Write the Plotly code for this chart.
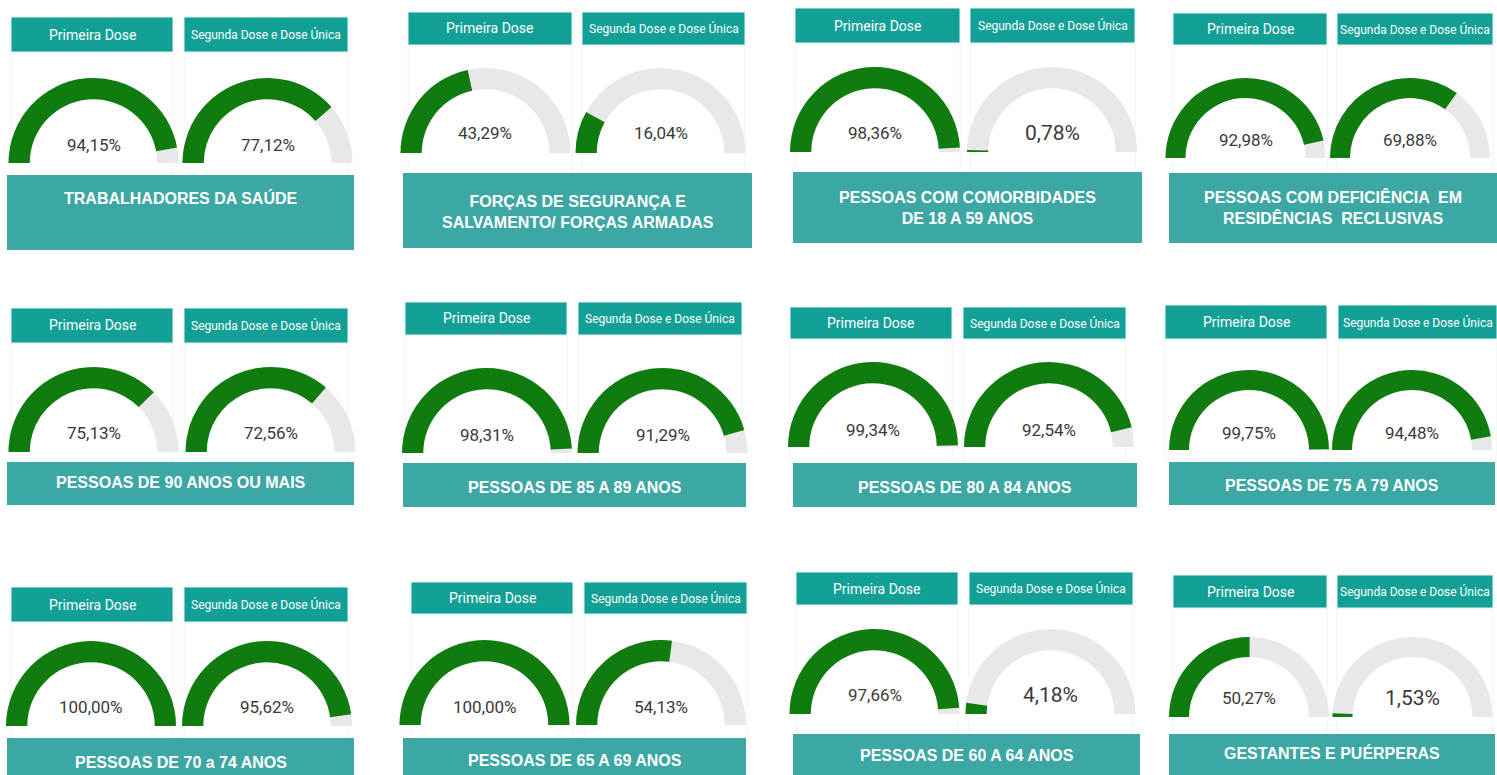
import plotly.graph_objects as go

# ---------------- data ----------------
groups = [
    "TRABALHADORES DA SAÚDE",
    "FORÇAS DE SEGURANÇA E<br>SALVAMENTO/ FORÇAS ARMADAS",
    "PESSOAS COM COMORBIDADES<br>DE 18 A 59 ANOS",
    "PESSOAS COM DEFICIÊNCIA  EM<br>RESIDÊNCIAS  RECLUSIVAS",
    "PESSOAS DE 90 ANOS OU MAIS",
    "PESSOAS DE 85 A 89 ANOS",
    "PESSOAS DE 80 A 84 ANOS",
    "PESSOAS DE 75 A 79 ANOS",
    "PESSOAS DE 70 a 74 ANOS",
    "PESSOAS DE 65 A 69 ANOS",
    "PESSOAS DE 60 A 64 ANOS",
    "GESTANTES E PUÉRPERAS",
]
dose_labels = ["Primeira Dose", "Segunda Dose e Dose Única"]
primeira_dose = [94.15, 43.29, 98.36, 92.98, 75.13, 98.31, 99.34, 99.75, 100.00, 100.00, 97.66, 50.27]
segunda_dose = [77.12, 16.04, 0.78, 69.88, 72.56, 91.29, 92.54, 94.48, 95.62, 54.13, 4.18, 1.53]

# ---------------- layout (pixel geometry of each card) ----------------
W, H = 1497, 775
panels = [
    dict(hy=(17, 52), hl=(11, 173), hr=(184, 348), gc=(93.5, 267.5), base=163, tb=(7, 354, 175, 250), ty=198, vy=145),
    dict(hy=(12, 45), hl=(408, 572), hr=(582, 745), gc=(485.5, 660.5), base=153, tb=(403, 752, 173, 248), ty=212, vy=133),
    dict(hy=(8, 43), hl=(795, 960), hr=(970, 1135), gc=(875, 1052), base=152, tb=(793, 1142, 172, 243), ty=207.5, vy=133),
    dict(hy=(13, 45), hl=(1173, 1327), hr=(1337, 1493), gc=(1245.5, 1410), base=158, tb=(1169, 1497, 173, 243), ty=207.5, vy=140),
    dict(hy=(308, 343), hl=(11, 173), hr=(184, 348), gc=(93.5, 270.5), base=452, tb=(7, 354, 462, 505), ty=483, vy=433),
    dict(hy=(302, 335), hl=(405, 567), hr=(578, 742), gc=(487, 662.5), base=453, tb=(403, 746, 463, 507), ty=487, vy=435),
    dict(hy=(307, 339), hl=(790, 952), hr=(963, 1126), gc=(873, 1049), base=447, tb=(793, 1137, 463, 507), ty=487, vy=430),
    dict(hy=(305, 339), hl=(1165, 1327), hr=(1338, 1497), gc=(1249, 1412), base=450, tb=(1169, 1495, 462, 505), ty=485, vy=433),
    dict(hy=(587, 622), hl=(11, 173), hr=(184, 348), gc=(91, 267), base=726, tb=(7, 354, 738, 790), ty=762, vy=707),
    dict(hy=(582, 614), hl=(411, 573), hr=(584, 747), gc=(484.5, 661), base=725, tb=(403, 746, 738, 790), ty=760, vy=707),
    dict(hy=(572, 605), hl=(796, 958), hr=(969, 1133), gc=(874.5, 1050.5), base=714, tb=(793, 1140, 734, 790), ty=755, vy=695),
    dict(hy=(575, 608), hl=(1173, 1327), hr=(1337, 1493), gc=(1249, 1412.5), base=717, tb=(1169, 1495, 734, 790), ty=753, vy=698),
]

GREEN = "#107C10"
GRAY = "#E8E8E8"
HEAD = "#12A096"
BAR = "#3DA7A3"
HFONT = "Roboto, Liberation Sans, sans-serif"
BOLD = "Liberation Sans, Arial, sans-serif"


def px(x):
    return x / W


def py(y):
    return 1 - y / H


fig = go.Figure()
shapes = []
annotations = []

for i, p in enumerate(panels):
    col = i % 4
    R = 80 if col == 3 else 85
    vals = [primeira_dose[i], segunda_dose[i]]
    for k, (hx, cx) in enumerate(zip([p["hl"], p["hr"]], p["gc"])):
        # card outline
        shapes.append(dict(type="rect", xref="paper", yref="paper",
                           x0=px(hx[0]), x1=px(hx[1]), y0=py(p["tb"][2]), y1=py(p["hy"][1]),
                           line=dict(color="#F2F2F2", width=1), fillcolor="rgba(0,0,0,0)", layer="below"))
        # header box
        shapes.append(dict(type="rect", xref="paper", yref="paper",
                           x0=px(hx[0]), x1=px(hx[1]), y0=py(p["hy"][1]), y1=py(p["hy"][0]),
                           line=dict(color="#E6F4F3", width=1), fillcolor=HEAD, layer="below"))
        annotations.append(dict(xref="paper", yref="paper", x=px((hx[0] + hx[1]) / 2),
                                y=py((p["hy"][0] + p["hy"][1]) / 2), text=dose_labels[k],
                                showarrow=False, xanchor="center", yanchor="middle",
                                font=dict(family=HFONT, size=14 if k == 0 else 12, color="white")))
        # gauge
        fig.add_trace(go.Indicator(
            mode="gauge",
            value=vals[k],
            domain=dict(x=[px(cx - R), px(cx + R)], y=[py(p["base"]), py(p["base"] - R)]),
            gauge=dict(shape="angular",
                       axis=dict(range=[0, 100], visible=False),
                       bar=dict(color=GREEN, thickness=1),
                       bgcolor=GRAY, borderwidth=0),
        ))
        txt = f"{vals[k]:.2f}".replace(".", ",") + "%"
        annotations.append(dict(xref="paper", yref="paper", x=px(cx), y=py(p["vy"]), text=txt,
                                showarrow=False, xanchor="center", yanchor="middle",
                                font=dict(family=HFONT, size=21 if len(txt) <= 5 else 17, color="#3A3A3A")))
    # title bar
    x0, x1, y0, y1 = p["tb"]
    shapes.append(dict(type="rect", xref="paper", yref="paper", x0=px(x0), x1=px(x1),
                       y0=py(y1), y1=py(y0), line=dict(width=0), fillcolor=BAR, layer="below"))
    annotations.append(dict(xref="paper", yref="paper", x=px((x0 + x1) / 2), y=py(p["ty"]),
                            text=f"<b>{groups[i]}</b>", showarrow=False, xanchor="center", yanchor="middle",
                            font=dict(family=BOLD, size=16, color="white")))

fig.update_layout(width=W, height=H, margin=dict(l=0, r=0, t=0, b=0), autosize=False,
                  paper_bgcolor="white", plot_bgcolor="white",
                  shapes=shapes, annotations=annotations, showlegend=False)
fig.write_html("out.html")
